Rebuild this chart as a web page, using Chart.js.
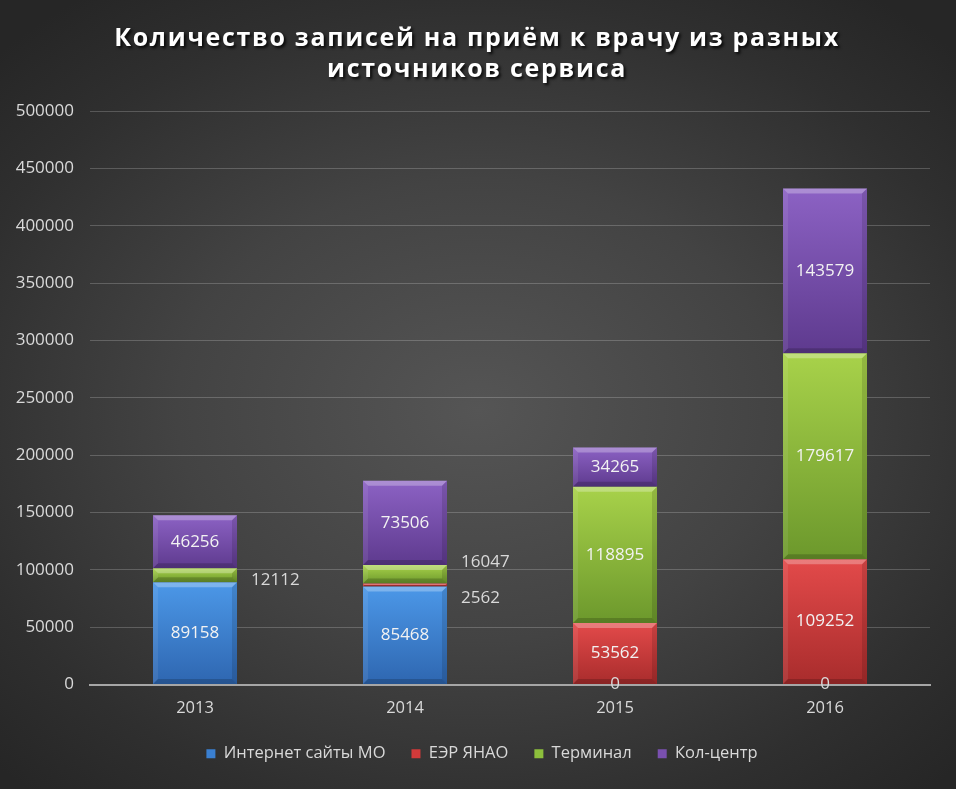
<!DOCTYPE html>
<html>
<head>
<meta charset="utf-8">
<script src="https://cdn.jsdelivr.net/npm/chart.js@4/dist/chart.umd.min.js"></script>
<style>
  html, body { margin: 0; padding: 0; }
  body {
    width: 956px; height: 789px; overflow: hidden;
    background: radial-gradient(ellipse 70% 65% at 50% 52%, #555555 0%, #434343 45%, #2f2f2f 80%, #262626 100%);
  }
  canvas { display: block; }
</style>
</head>
<body>
<canvas id="chart" width="956" height="789"></canvas>
<script>
// Данные
const years = ['2013', '2014', '2015', '2016'];
const internetMO = [89158, 85468, 0, 0];
const eerYanao   = [null, 2562, 53562, 109252];
const terminal   = [12112, 16047, 118895, 179617];
const callCenter = [46256, 73506, 34265, 143579];
const yTicks = [0, 50000, 100000, 150000, 200000, 250000, 300000, 350000, 400000, 450000, 500000];
const titleLines = ['Количество записей на приём к врачу из разных', 'источников сервиса'];

const FONT = "'Open Sans', 'Noto Sans', sans-serif";

// Градиент для сегмента столбца
function segGradient(light, dark) {
  return (c) => {
    if (c.type !== 'data') return dark;
    const chart = c.chart;
    const y = chart.scales.y;
    if (!y || !chart.chartArea) return dark;
    let start = 0;
    for (let i = 0; i < c.datasetIndex; i++) start += chart.data.datasets[i].data[c.dataIndex] || 0;
    const end = start + (c.raw || 0);
    const y0 = y.getPixelForValue(start), y1 = y.getPixelForValue(end);
    if (!isFinite(y0) || !isFinite(y1) || y0 === y1) return dark;
    const g = chart.ctx.createLinearGradient(0, y1, 0, y0);
    g.addColorStop(0, light);
    g.addColorStop(1, dark);
    return g;
  };
}

// Фаска на столбцах
const bevel = {
  id: 'bevel',
  afterDatasetsDraw(chart) {
    const ctx = chart.ctx;
    chart.data.datasets.forEach((ds, i) => {
      chart.getDatasetMeta(i).data.forEach(el => {
        const top = Math.min(el.y, el.base), bot = Math.max(el.y, el.base);
        const h = bot - top;
        if (!h || h < 1) return;
        const l = el.x - el.width / 2, r = el.x + el.width / 2;
        const b = Math.min(5, h / 2);
        ctx.save();
        ctx.fillStyle = 'rgba(255,255,255,0.28)';
        ctx.beginPath();
        ctx.moveTo(l, top); ctx.lineTo(r, top); ctx.lineTo(r - b, top + b); ctx.lineTo(l + b, top + b);
        ctx.closePath(); ctx.fill();
        ctx.fillStyle = 'rgba(0,0,0,0.18)';
        ctx.beginPath();
        ctx.moveTo(l, bot); ctx.lineTo(r, bot); ctx.lineTo(r - b, bot - b); ctx.lineTo(l + b, bot - b);
        ctx.closePath(); ctx.fill();
        ctx.fillStyle = 'rgba(0,0,0,0.12)';
        ctx.beginPath();
        ctx.moveTo(r, top); ctx.lineTo(r, bot); ctx.lineTo(r - b, bot - b); ctx.lineTo(r - b, top + b);
        ctx.closePath(); ctx.fill();
        ctx.fillStyle = 'rgba(255,255,255,0.08)';
        ctx.beginPath();
        ctx.moveTo(l, top); ctx.lineTo(l, bot); ctx.lineTo(l + b, bot - b); ctx.lineTo(l + b, top + b);
        ctx.closePath(); ctx.fill();
        ctx.restore();
      });
    });
  }
};

// Подписи значений
const valueLabels = {
  id: 'valueLabels',
  afterDatasetsDraw(chart) {
    const ctx = chart.ctx;
    const outside = {};
    ctx.save();
    ctx.font = '17px ' + FONT;
    ctx.textBaseline = 'middle';
    chart.data.datasets.forEach((ds, i) => {
      chart.getDatasetMeta(i).data.forEach((el, j) => {
        const v = ds.data[j];
        if (v === null || v === undefined) return;
        const h = Math.abs(el.base - el.y);
        const cy = (el.y + el.base) / 2;
        if (v > 0 && h < 22) {
          (outside[j] = outside[j] || []).push({ text: String(v), x: el.x + el.width / 2 + 14, y: cy });
        } else {
          ctx.textAlign = 'center';
          ctx.fillStyle = v === 0 ? '#d9d9d9' : '#f2f2f2';
          ctx.fillText(String(v), el.x, cy);
        }
      });
    });
    Object.values(outside).forEach(list => {
      list.sort((a, b) => b.y - a.y);
      for (let k = 1; k < list.length; k++) {
        const gap = 36;
        if (list[k - 1].y - list[k].y < gap) {
          const mid = (list[k - 1].y + list[k].y) / 2;
          list[k - 1].y = mid + gap / 2;
          list[k].y = mid - gap / 2;
        }
      }
      list.forEach(o => {
        ctx.textAlign = 'left';
        ctx.fillStyle = '#d9d9d9';
        ctx.fillText(o.text, o.x, o.y + (list.length === 1 ? 5 : 0));
      });
    });
    ctx.restore();
  }
};

// Заголовок с тенью
const shadowTitle = {
  id: 'shadowTitle',
  afterDraw(chart) {
    const ctx = chart.ctx;
    ctx.save();
    ctx.font = "bold 25px 'Open Sans', sans-serif";
    ctx.letterSpacing = '1.7px';
    ctx.textAlign = 'center';
    ctx.textBaseline = 'alphabetic';
    ctx.fillStyle = '#ffffff';
    ctx.shadowColor = 'rgba(0,0,0,0.85)';
    ctx.shadowOffsetX = 2;
    ctx.shadowOffsetY = 2;
    ctx.shadowBlur = 3;
    titleLines.forEach((t, i) => ctx.fillText(t, 477, 46 + i * 31));
    ctx.restore();
  }
};

// Сдвиг легенды вправо, как в исходнике
const legendShift = {
  id: 'legendShift',
  afterLayout(chart) {
    if (chart.legend) { chart.legend.left += 17; chart.legend.right += 17; }
  }
};

new Chart(document.getElementById('chart'), {
  type: 'bar',
  data: {
    labels: years,
    datasets: [
      { label: 'Интернет сайты МО', data: internetMO, backgroundColor: segGradient('#4c98e8', '#2e66b0') },
      { label: 'ЕЭР ЯНАО', data: eerYanao, backgroundColor: segGradient('#e34a4a', '#a82c2c') },
      { label: 'Терминал', data: terminal, backgroundColor: segGradient('#a8d24a', '#6c982c') },
      { label: 'Кол-центр', data: callCenter, backgroundColor: segGradient('#8c62c4', '#5e3a8e') }
    ]
  },
  options: {
    responsive: false,
    animation: false,
    devicePixelRatio: 1,
    barPercentage: 0.4,
    categoryPercentage: 1.0,
    layout: { padding: { top: 111, right: 26, bottom: 17, left: 0 } },
    plugins: {
      title: { display: false },
      tooltip: { enabled: false },
      legend: {
        position: 'bottom',
        labels: {
          color: '#d9d9d9',
          font: { size: 16.5, family: FONT },
          boxWidth: 9,
          boxHeight: 9,
          padding: 26,
          generateLabels(chart) {
            const cols = ['#3a7fd0', '#d33a3a', '#8dc03c', '#7a50b0'];
            return chart.data.datasets.map((ds, i) => ({
              text: ds.label, fillStyle: cols[i], strokeStyle: cols[i], lineWidth: 0,
              fontColor: '#d9d9d9', datasetIndex: i, hidden: false
            }));
          }
        }
      }
    },
    scales: {
      x: {
        stacked: true,
        grid: { display: false, drawTicks: false },
        border: { display: true, color: '#a6a6a6', width: 2 },
        ticks: { color: '#d9d9d9', font: { size: 16.5, family: FONT }, padding: 14 },
        afterFit(scale) { scale.height = 35; }
      },
      y: {
        stacked: true,
        min: 0,
        max: 500000,
        afterBuildTicks(scale) { scale.ticks = yTicks.map(v => ({ value: v })); },
        grid: { color: 'rgba(255,255,255,0.2)', lineWidth: 1, drawTicks: false },
        border: { display: false },
        ticks: { color: '#d9d9d9', font: { size: 17, family: FONT }, padding: 16, callback: v => String(v) },
        afterFit(scale) { scale.width = 90; }
      }
    }
  },
  plugins: [bevel, valueLabels, shadowTitle, legendShift]
});
</script>
</body>
</html>
